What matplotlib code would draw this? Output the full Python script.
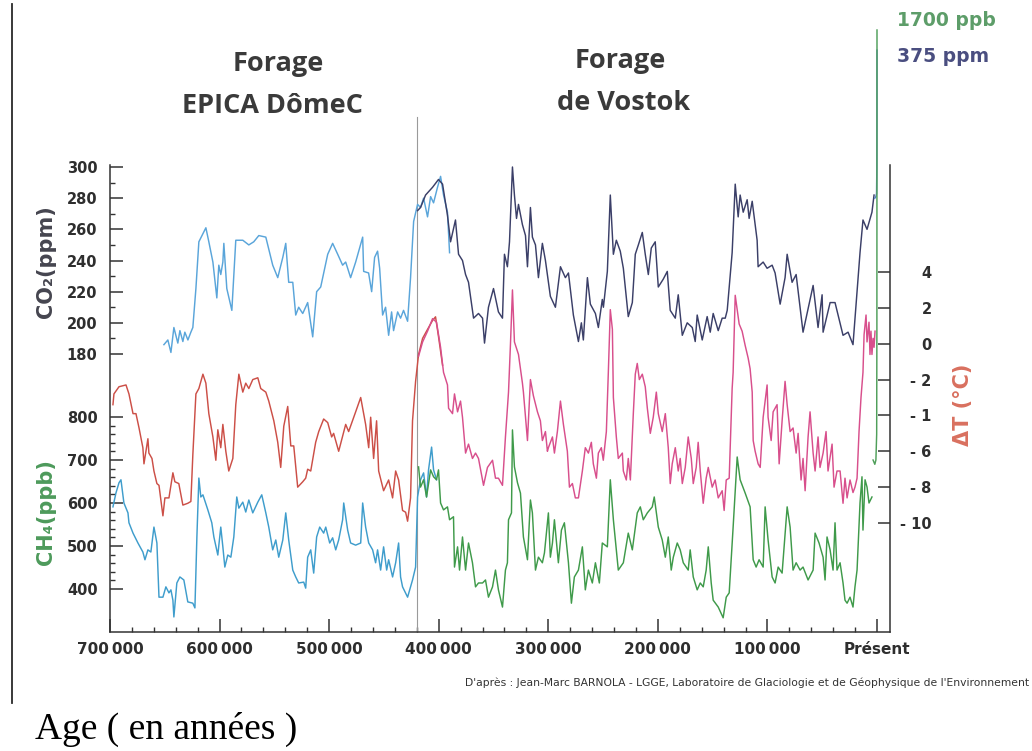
import numpy as np
import matplotlib
matplotlib.use("Agg")
import matplotlib.pyplot as plt
from matplotlib.lines import Line2D
from matplotlib.ticker import FixedLocator

# ---------------- data (ages in kyr before present) ----------------
epica_co2_age = [650.8,647.2,644.4,641.7,638.1,636.2,633.5,631.7,628.9,626.2,624.4,621.6,618.9,612.5,609.8,606.1,602.5,600.7,598.9,597.0,596.1,593.4,588.8,585.2,578.8,573.3,568.8,564.2,557.8,551.5,546.9,542.3,539.6,536.9,533.2,530.5,527.8,524.1,519.6,515.0,511.4,507.7,501.3,496.8,492.2,487.7,484.9,480.4,475.8,469.4,468.5,464.0,461.2,458.5,455.8,453.9,451.2,448.5,445.7,443.0,441.2,437.5,434.8,432.1,428.4,425.7,422.9,419.3,416.6,413.8,410.2,407.4,404.7,401.1,398.3,395.6,392.0,390.1]
epica_co2 = [186,189,181,197,187,195,188,194,189,194,197,222,252,261,252,239,216,237,231,239,251,222,208,253,253,250,252,256,255,237,229,242,251,226,226,205,210,206,213,191,220,223,244,251,244,237,239,229,239,255,233,232,220,242,246,235,205,210,192,207,195,207,203,208,201,229,265,276,274,280,268,281,277,287,294,282,271,245]

vostok_co2_age = [419.3,416.6,412.0,405.6,400.2,396.5,392.0,389.2,384.7,381.9,378.3,375.5,372.8,368.2,363.7,360.0,358.2,354.6,350.0,345.5,341.8,340.0,337.3,335.4,332.7,330.9,329.0,327.2,323.6,320.8,319.0,316.3,314.5,311.7,309.0,305.4,302.6,298.1,293.5,288.9,284.4,281.6,277.1,272.5,269.8,268.0,264.3,261.6,257.0,254.3,250.7,249.7,246.1,243.4,240.6,237.9,234.3,231.5,227.0,223.3,220.6,217.8,214.2,211.5,208.7,206.0,202.4,199.6,195.1,191.4,188.7,184.1,181.4,177.7,173.2,168.6,165.9,164.1,159.5,155.0,152.2,149.5,144.9,141.3,138.5,136.7,132.2,129.4,126.7,124.9,122.1,118.5,116.7,113.9,109.4,108.5,103.9,100.3,95.7,93.0,88.4,83.9,82.0,77.5,73.8,67.5,58.3,53.8,50.1,49.2,42.8,38.3,31.0,26.4,21.9,15.5,12.8,9.1,4.6,2.7]
vostok_co2 = [272,274,282,287,292,289,269,252,266,244,240,231,226,203,206,203,187,210,222,207,203,244,236,252,300,282,267,276,263,256,236,274,255,250,229,251,240,217,210,236,229,232,205,188,200,189,229,212,206,197,215,210,233,282,244,253,246,235,204,213,244,250,258,244,231,248,252,223,228,233,208,203,218,192,200,197,188,205,189,204,194,206,195,203,203,208,245,289,268,282,271,279,267,278,253,236,239,235,237,232,212,229,244,226,231,194,224,197,218,194,213,213,192,194,186,245,266,260,271,282]

modern_co2_age = [2.0, 1.0, 0.4, 0.15, 0.05, 0.0]
modern_co2 = [280, 281, 283, 300, 330, 375]

epica_t_age = [697.3,696.4,691.8,685.4,682.7,679.0,676.3,673.5,670.0,669.0,665.4,664.5,661.7,659.9,657.2,655.3,651.7,649.9,646.2,642.6,640.8,637.2,633.5,629.0,626.2,624.4,621.6,618.9,615.2,612.5,609.8,606.1,603.4,601.6,598.9,597.0,594.3,591.6,587.9,585.2,582.4,578.8,576.1,573.3,569.7,565.1,562.4,557.8,555.1,550.5,546.9,544.2,541.4,537.8,535.0,532.3,528.7,524.1,521.4,519.6,516.8,512.3,509.5,505.0,501.3,497.7,495.9,491.3,484.9,482.2,475.8,471.2,466.7,463.9,462.1,459.4,456.7,454.8,450.3,445.7,442.1,439.3,436.6,433.0,430.2,428.4,425.7,423.9,421.1,418.4,414.7,410.2,405.6,402.9,400.2,396.5]
epica_t = [-3.4,-2.8,-2.4,-2.3,-2.8,-3.9,-3.9,-4.7,-5.8,-6.7,-5.3,-6.1,-6.4,-7.1,-7.8,-7.9,-9.6,-8.6,-8.6,-7.2,-7.7,-7.8,-9.0,-8.9,-8.8,-6.2,-2.8,-2.5,-1.7,-2.2,-3.9,-5.2,-6.5,-4.8,-5.8,-4.5,-6.0,-7.1,-6.4,-3.4,-1.7,-2.7,-2.2,-2.5,-2.0,-1.9,-2.5,-2.7,-3.2,-4.3,-5.5,-6.9,-4.6,-3.5,-5.7,-5.7,-8.0,-7.7,-7.5,-7.0,-7.1,-5.5,-4.9,-4.2,-4.4,-5.2,-5.0,-6.0,-4.5,-4.9,-3.8,-3.0,-4.5,-5.8,-4.1,-6.4,-4.3,-7.1,-8.2,-7.6,-8.6,-7.1,-7.6,-9.3,-9.4,-9.9,-8.6,-4.3,-2.1,-0.6,0.3,0.8,1.3,1.5,0.4,-1.2]

vostok_t_age = [418.4,414.7,410.2,405.6,402.0,398.3,395.6,392.0,391.0,387.4,385.6,382.8,380.1,378.3,375.5,372.8,369.2,366.4,363.7,359.1,355.5,350.9,348.2,345.5,341.8,339.1,336.3,334.5,332.7,330.9,327.2,323.6,322.7,319.0,316.3,313.6,309.9,307.2,305.4,302.6,300.8,299.9,296.2,294.4,291.7,288.9,286.2,282.6,280.7,278.0,275.3,272.5,268.9,266.2,263.4,260.7,258.9,256.1,254.3,251.6,249.8,247.0,245.2,243.4,241.5,240.6,237.9,236.1,232.4,231.5,228.8,227.0,225.1,222.4,220.6,218.8,216.9,214.2,211.5,209.6,206.9,204.2,201.4,199.6,196.0,193.2,190.5,188.7,186.9,184.1,181.4,179.6,177.7,175.0,172.3,169.5,167.7,165.0,163.2,161.3,158.6,155.9,154.0,150.4,147.7,144.9,141.3,139.5,137.6,134.9,132.2,131.3,129.4,127.6,125.8,123.1,120.3,117.6,115.8,113.9,113.0,111.2,108.5,106.6,103.9,100.3,99.4,96.6,94.8,91.2,89.3,86.6,83.9,82.0,79.3,76.6,73.8,72.0,69.3,67.5,65.6,62.9,61.1,58.3,56.5,53.8,52.0,49.2,46.5,44.7,41.0,39.2,36.5,33.7,31.0,29.2,27.3,24.6,21.9,20.1,18.2,16.4,14.6,12.8,11.8,10.0,9.1,7.3,6.4,5.5,4.6,3.6,2.7,1.8]
vostok_t = [-0.7,0.1,0.7,1.4,1.2,-0.2,-1.6,-2.3,-3.6,-3.9,-2.8,-3.8,-3.2,-4.1,-6.1,-5.6,-6.4,-6.1,-6.4,-7.9,-6.9,-6.5,-7.5,-7.5,-7.9,-5.2,-2.7,0.0,3.0,0.1,-0.6,-2.2,-2.7,-5.4,-2.0,-2.9,-3.8,-4.3,-5.4,-4.9,-6.0,-5.8,-5.2,-6.1,-4.9,-3.2,-4.5,-6.0,-8.0,-7.8,-8.6,-8.6,-7.1,-5.8,-6.1,-5.5,-6.7,-7.5,-6.1,-5.8,-6.5,-4.9,-1.6,1.9,0.8,-3.0,-5.2,-6.4,-6.1,-7.1,-7.6,-6.4,-7.6,-3.9,-1.7,-1.1,-2.0,-1.7,-2.4,-3.6,-5.0,-4.1,-2.7,-3.9,-4.9,-3.9,-5.8,-7.8,-6.7,-5.8,-7.1,-6.4,-7.8,-6.9,-5.2,-6.4,-7.8,-6.9,-5.5,-7.1,-8.9,-7.5,-6.9,-8.0,-7.6,-8.6,-8.2,-9.3,-7.6,-7.5,-2.5,-1.6,2.7,1.9,1.1,0.7,-0.1,-0.8,-1.4,-2.7,-5.4,-6.0,-6.7,-6.9,-4.1,-2.3,-4.1,-5.4,-3.8,-3.4,-6.7,-4.3,-2.1,-3.4,-4.9,-4.7,-6.1,-5.0,-7.6,-6.4,-8.2,-5.2,-3.8,-6.1,-7.1,-5.2,-6.9,-6.1,-4.9,-7.1,-5.6,-8.0,-7.1,-7.1,-8.9,-7.5,-8.6,-7.6,-8.3,-8.0,-7.5,-4.9,-3.0,-1.6,0.5,1.6,0.1,1.2,-0.6,0.7,-0.6,0.3,-0.2,0.7]

epica_ch4_age = [697.3,694.6,691.8,690.0,687.3,683.6,682.7,679.0,674.5,670.0,668.1,665.4,662.7,659.9,657.2,655.3,651.7,649.0,646.2,644.4,642.6,641.7,639.0,636.2,632.6,629.0,624.4,622.5,620.7,618.9,617.1,615.2,610.7,607.1,605.2,601.6,598.9,597.0,595.2,592.5,589.7,587.0,584.3,582.4,578.8,576.1,573.3,569.7,565.1,561.5,557.8,555.1,551.5,548.7,546.0,542.3,539.6,536.9,533.2,530.5,527.8,523.2,521.4,519.6,516.8,514.1,511.4,508.6,505.0,503.1,499.5,496.8,494.0,491.3,487.7,486.7,483.1,480.4,475.8,471.2,469.4,466.7,463.9,460.3,457.6,455.8,453.0,450.3,447.5,445.7,442.1,439.3,436.6,434.8,433.0,428.4,423.9,421.1,419.3,416.6,413.8,411.1,409.3,406.5,404.7,402.0]
epica_ch4 = [591,623,647,654,600,577,554,530,507,486,468,491,486,544,507,381,381,405,391,398,374,335,414,428,421,370,367,356,521,658,614,619,584,554,521,479,544,498,451,479,474,521,614,588,602,579,607,577,602,619,577,544,491,514,474,514,577,514,444,428,414,416,402,474,491,437,521,544,530,544,507,519,491,514,561,600,537,507,502,507,600,544,507,491,461,491,444,498,444,468,428,461,507,428,405,381,421,451,614,654,670,614,677,730,677,654]

vostok_ch4_age = [418.4,416.6,413.8,411.1,407.4,404.7,402.0,400.2,398.3,395.6,392.0,390.1,386.5,385.6,382.8,381.0,378.3,375.5,372.8,369.2,366.4,363.7,360.0,357.3,354.6,350.9,348.2,345.5,341.8,339.1,337.3,336.3,333.6,332.7,330.9,328.1,325.4,322.7,319.0,316.3,314.5,311.7,309.0,305.4,303.5,299.9,298.1,296.2,294.4,290.8,288.0,285.3,281.6,278.9,276.2,272.5,268.9,266.2,263.4,259.8,257.0,253.4,250.7,246.1,243.4,240.6,236.1,231.5,227.0,223.3,218.8,216.0,213.3,209.6,205.1,203.3,199.6,196.0,193.2,190.5,187.8,185.9,182.3,179.6,176.8,172.3,170.5,167.7,164.1,161.3,158.6,155.9,154.0,151.3,149.5,144.9,140.4,137.6,134.9,131.3,127.6,124.9,120.3,115.8,113.0,110.3,107.6,103.9,102.1,99.4,95.7,93.0,90.2,86.6,82.0,79.3,76.6,73.8,70.2,67.5,62.9,58.3,56.5,52.9,49.2,47.4,45.6,42.8,40.1,38.3,36.5,33.7,31.0,29.2,27.3,24.6,21.9,20.1,18.2,15.5,13.7,12.8,10.9,9.1,7.3,4.6]
vostok_ch4 = [684,637,654,614,677,661,654,677,600,584,591,561,568,451,498,444,521,444,507,461,405,414,414,421,381,405,444,398,358,444,461,561,577,770,684,647,623,521,468,607,577,444,474,461,484,577,474,507,561,461,537,554,461,367,428,444,498,398,444,414,461,414,507,498,654,561,444,461,530,491,577,591,561,577,591,614,544,514,474,521,444,474,507,491,461,444,491,428,398,414,405,444,498,414,374,358,333,381,391,544,707,654,623,591,468,451,468,451,591,514,428,414,451,437,591,544,444,461,444,451,421,444,530,507,474,421,521,491,444,554,444,461,414,374,367,381,358,405,444,600,661,537,654,637,600,614]

modern_ch4_age = [3.6, 2.0, 1.0, 0.3, 0.1, 0.0]
modern_ch4 = [700, 690, 700, 760, 1000, 1700]

co2_ticks = [180, 200, 220, 240, 260, 280, 300]
ch4_ticks = [400, 500, 600, 700, 800]
t_ticks = [4, 2, 0, -2, -4, -6, -8, -10]
t_ticklabels = ["4", "2", "0", "- 2", "- 1", "- 6", "- 8", "- 10"]
age_ticks = [700000, 600000, 500000, 400000, 300000, 200000, 100000, 0]
age_ticklabels = ["700\u2009000", "600\u2009000", "500\u2009000", "400\u2009000",
                  "300\u2009000", "200\u2009000", "100\u2009000", "Présent"]

# ---------------- layout ----------------
W, H = 1032, 751
fig = plt.figure(figsize=(W / 100, H / 100), dpi=100)
fig.patch.set_facecolor("white")

L, R, B, T = 110, 890, 632, 20
rect = [L / W, 1 - B / H, (R - L) / W, (B - T) / H]
ax = fig.add_axes(rect)
ax_ch4 = fig.add_axes(rect, sharex=ax)
ax_t = fig.add_axes(rect, sharex=ax)
for a in (ax_ch4, ax_t):
    a.patch.set_visible(False)
    for s in a.spines.values():
        s.set_visible(False)
    a.tick_params(axis="x", which="both", bottom=False, top=False,
                  labelbottom=False, labeltop=False)

# x: 700000 at px 110, present at px 877
ppk = (877 - 110) / 700.0
ax.set_xlim(700000, -(R - 877) / ppk * 1000)

def lim_from(v1, p1, v2, p2):
    s = (v2 - v1) / (p1 - p2)  # value per pixel (upwards)
    return v1 - (B - p1) * s, v1 + (p1 - T) * s

ax.set_ylim(*lim_from(180, 354, 300, 167))
ax_ch4.set_ylim(*lim_from(400, 589, 800, 417))
ax_t.set_ylim(*lim_from(-10, 523, 4, 272))

def yrs(a):
    return np.asarray(a) * 1000.0

lw = 1.05
ax.plot(yrs(epica_co2_age), epica_co2, color="#5aa5da", lw=lw, zorder=3)
ax.plot(yrs(vostok_co2_age), vostok_co2, color="#3b3f68", lw=lw, zorder=4)
ax.plot(yrs(modern_co2_age), modern_co2, color="#4f7fc4", lw=lw, zorder=4)
ax_t.plot(yrs(epica_t_age), epica_t, color="#cc4f47", lw=lw, zorder=3)
ax_t.plot(yrs(vostok_t_age), vostok_t, color="#d84f8c", lw=lw, zorder=4)
ax_ch4.plot(yrs(epica_ch4_age), epica_ch4, color="#3f9dcc", lw=lw, zorder=3)
ax_ch4.plot(yrs(vostok_ch4_age), vostok_ch4, color="#3f9a4a", lw=lw, zorder=4)
ax_ch4.plot(yrs(modern_ch4_age), modern_ch4, color="#4f9f5a", lw=lw, zorder=4)

# divider between the two cores
ax.axvline(420000, ymin=0, ymax=(B - 117) / (B - T), color="#9a9a9a", lw=0.8, zorder=2)

# spines
sp_col = "#333333"
co2_top = 300 + 2 * (120 / (354 - 167))
ax.spines["top"].set_visible(False)
for k in ("left", "right", "bottom"):
    ax.spines[k].set_color(sp_col)
    ax.spines[k].set_linewidth(1.1)
ax.spines["left"].set_bounds(ax.get_ylim()[0], co2_top)
ax.spines["right"].set_bounds(ax.get_ylim()[0], co2_top)

tick_font = dict(fontsize=10.5, fontweight="bold", color="#2e2e2e", family="DejaVu Sans")

# x ticks
ax.set_xticks(age_ticks)
ax.set_xticklabels(age_ticklabels, fontsize=11, fontweight="bold", color="#2e2e2e")
ax.xaxis.set_minor_locator(FixedLocator(list(range(0, 700001, 20000))))
ax.tick_params(axis="x", which="major", direction="in", length=9.5, width=1.1,
               color=sp_col, pad=7, top=False)
ax.tick_params(axis="x", which="minor", direction="in", length=3.6, width=1.0,
               color=sp_col, top=False)

# CO2 ticks
ax.yaxis.tick_left()
ax.set_yticks(co2_ticks)
ax.set_yticklabels([str(v) for v in co2_ticks], **tick_font)
ax.yaxis.set_minor_locator(FixedLocator([190, 210, 230, 250, 270, 290]))
ax.tick_params(axis="y", which="major", direction="in", length=9.5, width=1.1,
               color=sp_col, pad=9)
ax.tick_params(axis="y", which="minor", direction="in", length=3.6, width=1.0,
               color=sp_col)

# CH4 ticks
ax_ch4.yaxis.tick_left()
ax_ch4.set_yticks(ch4_ticks)
ax_ch4.set_yticklabels([str(v) for v in ch4_ticks], **tick_font)
ax_ch4.yaxis.set_minor_locator(FixedLocator([v for v in range(420, 800, 20) if v % 100]))
ax_ch4.tick_params(axis="y", which="major", direction="in", length=9.5, width=1.1,
                   color=sp_col, pad=9)
ax_ch4.tick_params(axis="y", which="minor", direction="in", length=3.6, width=1.0,
                   color=sp_col)

# temperature ticks (right)
ax_t.yaxis.tick_right()
ax_t.set_yticks(t_ticks)
ax_t.set_yticklabels(t_ticklabels, **tick_font)
for lbl in ax_t.get_yticklabels():
    lbl.set_horizontalalignment("right")
ax_t.tick_params(axis="y", which="major", direction="in", length=9, width=1.1,
                 color=sp_col, pad=30)

# ---------------- texts ----------------
def ft(x, y, s, **kw):
    fig.text(x / W, 1 - y / H, s, **kw)

title_kw = dict(fontsize=19.5, fontweight="bold", color="#3a3a3a", family="Open Sans",
                ha="center", va="center")
ft(278, 64, "Forage", **title_kw)
ft(272, 106, "EPICA DômeC", **title_kw)
ft(620, 61, "Forage", **title_kw)
ft(624, 103, "de Vostok", **title_kw)

ft(946, 21, "1700 ppb", fontsize=13.5, fontweight="bold", color="#5d9d69",
   ha="center", va="center")
ft(943, 57, "375 ppm", fontsize=13.5, fontweight="bold", color="#4a4e80",
   ha="center", va="center")

ft(46, 262, "CO\u2082(ppm)", fontsize=15, fontweight="bold", color="#45454f",
   rotation=90, ha="center", va="center")
ft(46, 512, "CH\u2084(ppb)", fontsize=15, fontweight="bold", color="#4d9a5b",
   rotation=90, ha="center", va="center")
ft(963, 405, "\u0394T (°C)", fontsize=15, fontweight="bold", color="#d9705f",
   rotation=90, ha="center", va="center")

ft(465, 683, "D'après : Jean-Marc BARNOLA - LGGE, Laboratoire de Glaciologie et de Géophysique de l'Environnement",
   fontsize=7.75, color="#333333", ha="left", va="center")

ft(35, 739, "Age ( en années )", fontsize=27, family="Liberation Serif", color="black",
   ha="left", va="baseline")

# scan edge line on the left
fig.add_artist(Line2D([12 / W, 12 / W], [1 - 4 / H, 1 - 703 / H],
                      transform=fig.transFigure, color="#2a2a2a", lw=1.3))

fig.savefig("out.png", dpi=100, facecolor="white")
